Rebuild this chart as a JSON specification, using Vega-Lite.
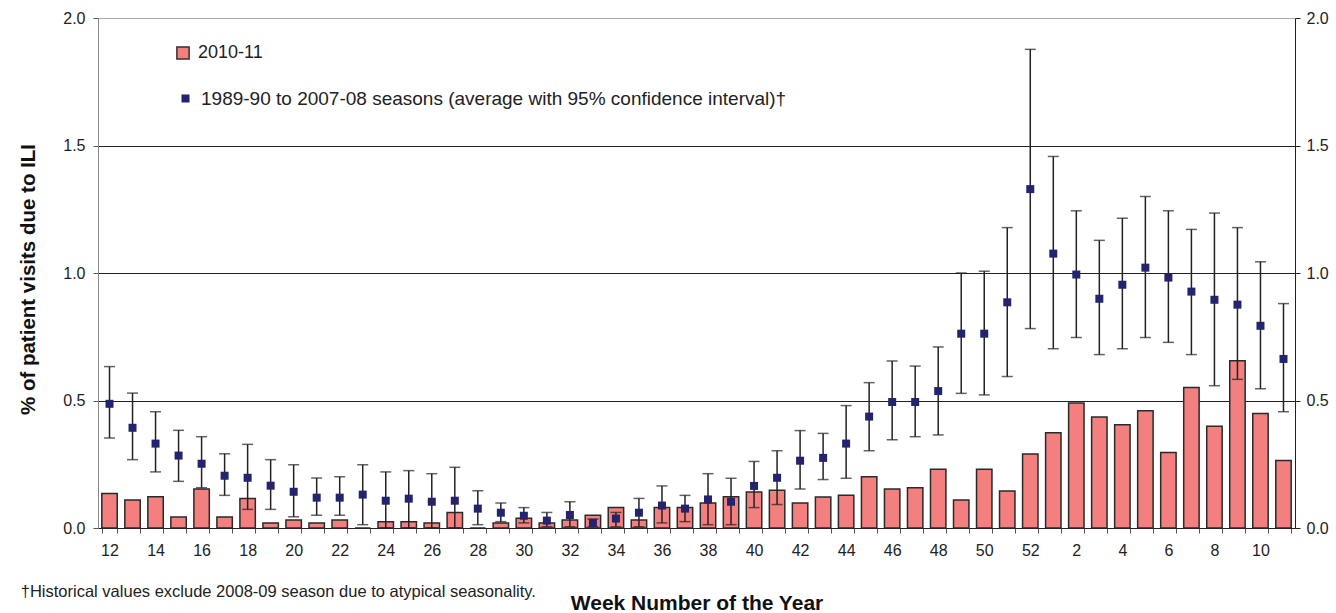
{
  "$schema": "https://vega.github.io/schema/vega-lite/v6.json",
  "width": 1197,
  "height": 510,
  "autosize": "none",
  "padding": {"left": 98, "top": 18, "right": 41, "bottom": 85},
  "background": "white",
  "config": {
    "view": {"stroke": null},
    "font": "Liberation Sans"
  },
  "title": {
    "text": "†Historical values exclude 2008-09 season due to atypical seasonality.",
    "orient": "bottom",
    "anchor": "start",
    "frame": "bounds",
    "font": "Liberation Sans",
    "fontSize": 16.5,
    "fontWeight": "normal",
    "color": "#222222",
    "offset": -29,
    "dx": 2
  },
  "data": {
    "values": [
      {"week": 12, "pct": 0.135, "avg": 0.487, "lo": 0.353, "hi": 0.633},
      {"week": 13, "pct": 0.11, "avg": 0.393, "lo": 0.268, "hi": 0.529},
      {"week": 14, "pct": 0.123, "avg": 0.331, "lo": 0.22, "hi": 0.456},
      {"week": 15, "pct": 0.043, "avg": 0.284, "lo": 0.183, "hi": 0.383},
      {"week": 16, "pct": 0.153, "avg": 0.252, "lo": 0.158, "hi": 0.358},
      {"week": 17, "pct": 0.043, "avg": 0.205, "lo": 0.128, "hi": 0.291},
      {"week": 18, "pct": 0.116, "avg": 0.197, "lo": 0.073, "hi": 0.328},
      {"week": 19, "pct": 0.02, "avg": 0.166, "lo": 0.073, "hi": 0.268},
      {"week": 20, "pct": 0.031, "avg": 0.142, "lo": 0.044, "hi": 0.248},
      {"week": 21, "pct": 0.02, "avg": 0.119, "lo": 0.05, "hi": 0.196},
      {"week": 22, "pct": 0.031, "avg": 0.119, "lo": 0.05, "hi": 0.201},
      {"week": 23, "pct": 0, "avg": 0.131, "lo": 0.013, "hi": 0.248},
      {"week": 24, "pct": 0.025, "avg": 0.107, "lo": 0.0, "hi": 0.22},
      {"week": 25, "pct": 0.025, "avg": 0.115, "lo": 0.0, "hi": 0.225},
      {"week": 26, "pct": 0.02, "avg": 0.103, "lo": 0.0, "hi": 0.213},
      {"week": 27, "pct": 0.061, "avg": 0.107, "lo": 0.0, "hi": 0.238},
      {"week": 28, "pct": 0, "avg": 0.076, "lo": 0.013, "hi": 0.146},
      {"week": 29, "pct": 0.02, "avg": 0.06, "lo": 0.025, "hi": 0.098},
      {"week": 30, "pct": 0.038, "avg": 0.048, "lo": 0.02, "hi": 0.08},
      {"week": 31, "pct": 0.02, "avg": 0.029, "lo": 0.005, "hi": 0.061},
      {"week": 32, "pct": 0.031, "avg": 0.051, "lo": 0.005, "hi": 0.103},
      {"week": 33, "pct": 0.05, "avg": 0.02, "lo": 0.005, "hi": 0.035},
      {"week": 34, "pct": 0.08, "avg": 0.037, "lo": 0.005, "hi": 0.061},
      {"week": 35, "pct": 0.031, "avg": 0.06, "lo": 0.005, "hi": 0.116},
      {"week": 36, "pct": 0.08, "avg": 0.088, "lo": 0.02, "hi": 0.165},
      {"week": 37, "pct": 0.08, "avg": 0.076, "lo": 0.025, "hi": 0.128},
      {"week": 38, "pct": 0.098, "avg": 0.112, "lo": 0.013, "hi": 0.213},
      {"week": 39, "pct": 0.123, "avg": 0.103, "lo": 0.013, "hi": 0.195},
      {"week": 40, "pct": 0.141, "avg": 0.165, "lo": 0.08, "hi": 0.261},
      {"week": 41, "pct": 0.148, "avg": 0.197, "lo": 0.092, "hi": 0.303},
      {"week": 42, "pct": 0.098, "avg": 0.264, "lo": 0.153, "hi": 0.382},
      {"week": 43, "pct": 0.122, "avg": 0.275, "lo": 0.19, "hi": 0.371},
      {"week": 44, "pct": 0.128, "avg": 0.331, "lo": 0.195, "hi": 0.48},
      {"week": 45, "pct": 0.201, "avg": 0.437, "lo": 0.303, "hi": 0.57},
      {"week": 46, "pct": 0.153, "avg": 0.494, "lo": 0.346, "hi": 0.655},
      {"week": 47, "pct": 0.158, "avg": 0.494, "lo": 0.358, "hi": 0.635},
      {"week": 48, "pct": 0.23, "avg": 0.537, "lo": 0.365, "hi": 0.71},
      {"week": 49, "pct": 0.11, "avg": 0.762, "lo": 0.528, "hi": 1.0},
      {"week": 50, "pct": 0.23, "avg": 0.762, "lo": 0.522, "hi": 1.007},
      {"week": 51, "pct": 0.145, "avg": 0.885, "lo": 0.594, "hi": 1.178},
      {"week": 52, "pct": 0.29, "avg": 1.329, "lo": 0.782, "hi": 1.877},
      {"week": 1, "pct": 0.374, "avg": 1.076, "lo": 0.703, "hi": 1.457},
      {"week": 2, "pct": 0.49, "avg": 0.994, "lo": 0.747, "hi": 1.244},
      {"week": 3, "pct": 0.435, "avg": 0.899, "lo": 0.68, "hi": 1.128},
      {"week": 4, "pct": 0.405, "avg": 0.954, "lo": 0.703, "hi": 1.215},
      {"week": 5, "pct": 0.46, "avg": 1.021, "lo": 0.747, "hi": 1.3},
      {"week": 6, "pct": 0.296, "avg": 0.982, "lo": 0.728, "hi": 1.244},
      {"week": 7, "pct": 0.551, "avg": 0.927, "lo": 0.68, "hi": 1.171},
      {"week": 8, "pct": 0.399, "avg": 0.895, "lo": 0.558, "hi": 1.235},
      {"week": 9, "pct": 0.656, "avg": 0.876, "lo": 0.583, "hi": 1.178},
      {"week": 10, "pct": 0.449, "avg": 0.793, "lo": 0.546, "hi": 1.044},
      {"week": 11, "pct": 0.265, "avg": 0.663, "lo": 0.456, "hi": 0.88}
    ]
  },
  "encoding": {
    "x": {
      "field": "week",
      "type": "ordinal",
      "sort": null,
      "scale": {"paddingInner": 0.33, "paddingOuter": 0.165},
      "axis": {
        "title": "Week Number of the Year",
        "titleFont": "Liberation Sans",
        "titleFontSize": 21,
        "titleFontWeight": "bold",
        "titleColor": "#111111",
        "titlePadding": 34,
        "labelAngle": 0,
        "labelFontSize": 16,
        "labelColor": "#222222",
        "labelPadding": 9,
        "labelOverlap": false,
        "labelExpr": "datum.value % 2 == 0 ? datum.label : ''",
        "tickBand": "extent",
        "tickSize": 5,
        "tickColor": "#555555",
        "domainColor": "#222222",
        "domainWidth": 1.2,
        "grid": false
      }
    }
  },
  "layer": [
    {
      "mark": {"type": "bar", "stroke": "#2a2a2a", "strokeWidth": 1.5},
      "encoding": {
        "y": {
          "field": "pct",
          "type": "quantitative",
          "scale": {"domain": [0, 2], "nice": false},
          "axis": {
            "orient": "left",
            "title": "% of patient visits due to ILI",
            "titleFontSize": 20.5,
            "titleFontWeight": "bold",
            "titleColor": "#111111",
            "titlePadding": 24,
            "titleY": 261,
            "values": [0, 0.5, 1, 1.5, 2],
            "format": ".1f",
            "labelFontSize": 16,
            "labelColor": "#222222",
            "labelPadding": 8,
            "tickSize": 5,
            "tickColor": "#555555",
            "domainColor": "#888888",
            "grid": true,
            "gridColor": {"condition": {"test": "datum.value == 2", "value": "#aaaaaa"}, "value": "#222222"},
            "gridWidth": 1
          }
        },
        "fill": {
          "datum": "2010-11",
          "type": "nominal",
          "scale": {"domain": ["2010-11"], "range": ["#F47F7F"]},
          "legend": {
            "title": null,
            "orient": "none",
            "legendX": 76,
            "legendY": 26,
            "padding": 0,
            "symbolType": "square",
            "symbolSize": 150,
            "symbolStrokeColor": "#333333",
            "symbolStrokeWidth": 1.5,
            "labelFontSize": 18,
            "labelColor": "#222222",
            "labelOffset": 6
          }
        }
      }
    },
    {
      "mark": {"type": "rule", "color": "#222222", "strokeWidth": 1.5},
      "encoding": {
        "y": {"field": "lo", "type": "quantitative", "scale": {"domain": [0, 2], "nice": false}, "axis": null},
        "y2": {"field": "hi"}
      }
    },
    {
      "mark": {"type": "tick", "color": "#222222", "thickness": 1.5, "size": 11, "orient": "horizontal"},
      "encoding": {
        "y": {"field": "lo", "type": "quantitative", "scale": {"domain": [0, 2], "nice": false}, "axis": null}
      }
    },
    {
      "mark": {"type": "tick", "color": "#222222", "thickness": 1.5, "size": 11, "orient": "horizontal"},
      "encoding": {
        "y": {"field": "hi", "type": "quantitative", "scale": {"domain": [0, 2], "nice": false}, "axis": null}
      }
    },
    {
      "mark": {"type": "square", "size": 64, "opacity": 1, "filled": true},
      "encoding": {
        "y": {
          "field": "avg",
          "type": "quantitative",
          "scale": {"domain": [0, 2], "nice": false},
          "axis": {
            "orient": "right",
            "title": null,
            "values": [0, 0.5, 1, 1.5, 2],
            "format": ".1f",
            "labelFontSize": 16,
            "labelColor": "#222222",
            "labelPadding": 6,
            "tickSize": 5,
            "tickColor": "#222222",
            "domainColor": "#222222",
            "grid": false
          }
        },
        "color": {
          "datum": "1989-90 to 2007-08 seasons (average with 95% confidence interval)†",
          "type": "nominal",
          "scale": {"domain": ["1989-90 to 2007-08 seasons (average with 95% confidence interval)†"], "range": ["#23236E"]},
          "legend": {
            "title": null,
            "orient": "none",
            "legendX": 78,
            "legendY": 71,
            "padding": 0,
            "symbolType": "square",
            "symbolSize": 64,
            "symbolStrokeWidth": 0,
            "labelFontSize": 19,
            "labelColor": "#222222",
            "labelOffset": 6,
            "labelLimit": 800
          }
        }
      }
    }
  ],
  "resolve": {"axis": {"y": "independent"}}
}
